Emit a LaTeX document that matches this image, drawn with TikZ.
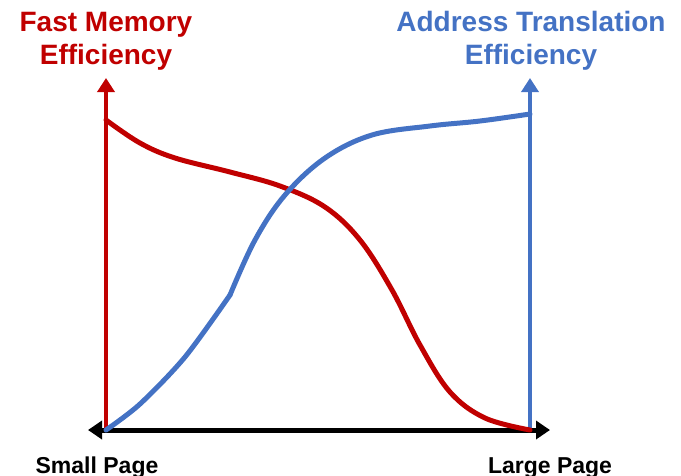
\documentclass[tikz,border=0pt]{standalone}
\usepackage{fontspec}
\setmainfont{Liberation Sans}
\usetikzlibrary{arrows.meta}
\definecolor{memred}{HTML}{C00000}
\definecolor{tlbblue}{HTML}{4472C4}
\begin{document}
\begin{tikzpicture}[x=1pt,y=-1pt,
  axis/.style={line width=4.5pt,-{Triangle[length=14pt,width=17pt]}},
  curve/.style={line width=5pt,line cap=round,line join=round},
  title/.style={font=\bfseries\fontsize{28}{33}\selectfont,align=center,inner sep=0pt},
  tick/.style={font=\bfseries\fontsize{23}{27}\selectfont,inner sep=0pt}]
\useasboundingbox (0,0) rectangle (681,475);
% axes
\coordinate (o) at (106,430);
\coordinate (r) at (530,430);
\coordinate (ltip) at (88,430);
\coordinate (rtip) at (550,430);
\coordinate (ytop) at (106,78);
\coordinate (btop) at (530,78);
\draw[axis,memred] (o) -- (ytop);
\draw[axis,tlbblue] (r) -- (btop);
\draw[line width=5pt,black,{Triangle[length=14pt,width=18pt]}-{Triangle[length=14pt,width=18pt]}] (ltip) -- (rtip);
% fast memory efficiency curve
\draw[curve,memred] plot[smooth,tension=0.6] coordinates {(106,120) (140,143) (175,158) (230,172) (280,186) (325,207) (360,240) (392,290) (420,345) (450,392) (485,418) (530,430)};
% address translation efficiency curve
\draw[curve,tlbblue] plot[smooth,tension=0.5] coordinates {(106,430) (140,404) (185,357) (230,295)};
\draw[curve,tlbblue] plot[smooth,tension=0.6] coordinates {(230,295) (255,240) (285,195) (325,158) (372,135) (430,126) (480,121) (530,114)};
% labels
\node[title,text=memred] (fm) at (106,41) {Fast Memory\\Efficiency};
\node[title,text=tlbblue] (at) at (531,41) {Address Translation\\Efficiency};
\node[tick,anchor=base] (sp) at (97,473) {Small Page};
\node[tick,anchor=base] (lp) at (550,473) {Large Page};
\end{tikzpicture}
\end{document}
